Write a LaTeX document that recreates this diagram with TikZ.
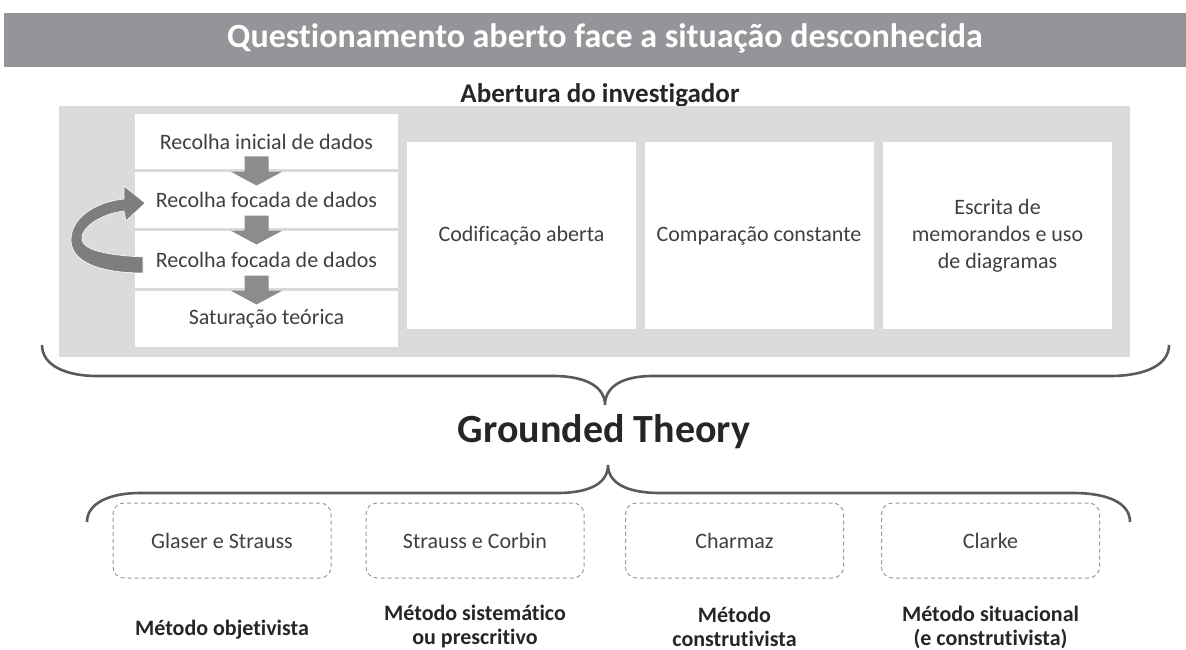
\documentclass[tikz,border=0pt]{standalone}
\usepackage{fontspec}
\setmainfont{Carlito}[Ligatures={NoCommon}]
\usetikzlibrary{calc}
\definecolor{barc}{HTML}{939598}
\definecolor{panelc}{HTML}{DBDBDB}
\definecolor{arrc}{HTML}{8C8C8C}
\definecolor{loopc}{HTML}{7E7E7E}
\definecolor{txtc}{HTML}{404040}
\definecolor{darkc}{HTML}{262626}
\definecolor{bracec}{HTML}{5A5A5A}
\definecolor{dashc}{HTML}{9A9A9A}
\tikzset{
  smallbox/.style={fill=white, draw=none, inner sep=0pt, minimum width=263pt, text=txtc,
    font=\fontsize{22}{27}\selectfont},
  bigbox/.style={fill=white, draw=none, inner sep=0pt, minimum width=229pt, minimum height=187pt,
    text=txtc, align=center, font=\fontsize{22}{27}\selectfont},
  dashbox/.style={draw=dashc, line width=1pt, dash pattern=on 4pt off 3pt, rounded corners=11pt,
    minimum width=218pt, minimum height=75pt, inner sep=0pt, text=txtc, font=\fontsize{22}{27}\selectfont},
  method/.style={text=darkc, align=center, font=\bfseries\fontsize{22}{24}\selectfont},
  bracestyle/.style={draw=bracec, line width=2.6pt},
  downarrow/.style={fill=arrc, draw=none}
}
\begin{document}
\begin{tikzpicture}[x=1pt,y=-1pt]
\useasboundingbox (0,0) rectangle (1186,650);
% header
\fill[barc] (4,13) rectangle (1186,67);
\node[anchor=base, text=white, font=\bfseries\fontsize{34}{36}\selectfont, inner sep=0pt] (head) at (605,48) {Questionamento aberto face a situação desconhecida};
\node[anchor=base, text=darkc, font=\bfseries\fontsize{27}{30}\selectfont, inner sep=0pt] (abert) at (600,103) {Abertura do investigador};
% panel
\fill[panelc] (59,106) rectangle (1130,357);
% left column
\node[smallbox, minimum height=55pt] (b1) at (266.5,141.5) {Recolha inicial de dados};
\node[smallbox, minimum height=56pt] (b2) at (266.5,200) {Recolha focada de dados};
\node[smallbox, minimum height=57pt] (b3) at (266.5,259.5) {Recolha focada de dados};
\node[smallbox, minimum height=56pt] (b4) at (266.5,319) {Saturação teórica};
% big boxes
\node[bigbox] (cod) at (521.5,235.5) {Codificação aberta};
\node[bigbox] (comp) at (759,235.5) {Comparação constante};
\node[bigbox] (esc) at (997.5,235.5) {Escrita de\\memorandos e uso\\de diagramas};
% down arrows
\foreach \a/\b in {b1/b2,b2/b3,b3/b4}{
  \coordinate (m) at ($(\a.south)!0.5!(\b.north)$);
  \fill[downarrow, shift={($(m)+(-10,0)$)}] (-12,-14) -- (12,-14) -- (12,1) -- (26,1) -- (0,15) -- (-26,1) -- (-12,1) -- cycle;
}
% loop arrow
\fill[loopc, draw=white, line width=0.6pt]
  (143,257) .. controls (105,255) and (84,250) .. (82,240)
  .. controls (80,228) and (100,214) .. (124,211)
  -- (126,221) -- (145,203) -- (124,186) -- (124,199)
  .. controls (95,202) and (71,218) .. (71,240)
  .. controls (71,262) and (100,273) .. (143,273) -- cycle;
% upper brace
\draw[bracestyle] (42,345) .. controls (42,365) and (65,376) .. (97,376) -- (553,376)
  .. controls (588,376) and (605,388) .. (605,405)
  .. controls (605,388) and (620,376) .. (653,376) -- (1110,376)
  .. controls (1145,376) and (1169,365) .. (1169,345);
\node[text=darkc, font=\bfseries\fontsize{40}{44}\selectfont, inner sep=0pt] (gt) at (604,432) {Grounded Theory};
% lower brace
\draw[bracestyle] (87,522) .. controls (87,503) and (110,493) .. (140,493) -- (557,493)
  .. controls (592,493) and (608,482) .. (608,465)
  .. controls (608,482) and (625,493) .. (660,493) -- (1073,493)
  .. controls (1108,493) and (1130,503) .. (1130,522);
% dashed boxes
\node[dashbox] (gs) at (222,540.5) {Glaser e Strauss};
\node[dashbox] (sc) at (475,540.5) {Strauss e Corbin};
\node[dashbox] (ch) at (734.5,540.5) {Charmaz};
\node[dashbox] (cl) at (990.5,540.5) {Clarke};
% methods
\node[method] (m1) at (222,630) {Método objetivista};
\node[method] (m2) at (475,627) {Método sistemático\\ou prescritivo};
\node[method] (m3) at (734.5,627) {Método\\construtivista};
\node[method] (m4) at (990.5,627) {Método situacional\\(e construtivista)};
\end{tikzpicture}
\end{document}
